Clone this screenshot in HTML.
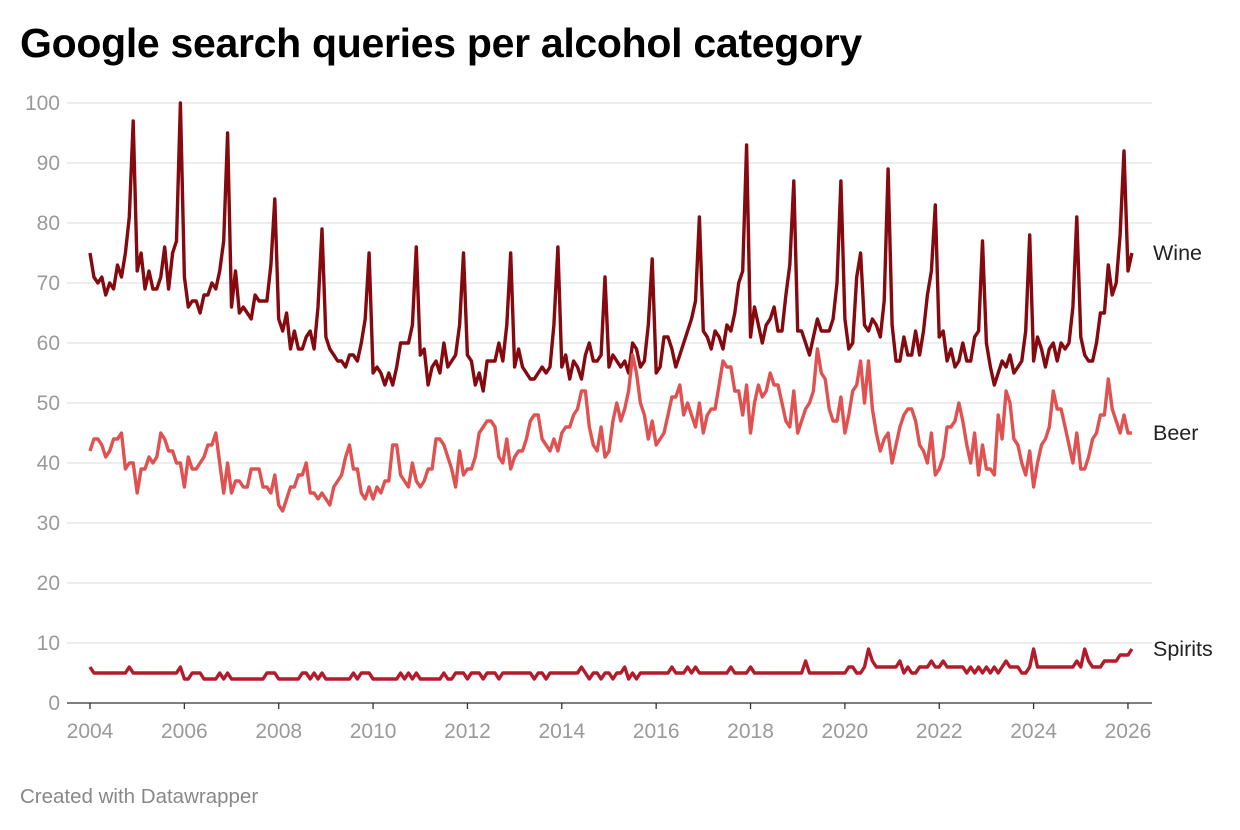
<!DOCTYPE html>
<html><head><meta charset="utf-8">
<style>
html,body{margin:0;padding:0;background:#fff;width:1240px;height:830px;overflow:hidden}
body{font-family:"Liberation Sans",Arial,sans-serif}
h1{position:absolute;left:20px;top:20px;margin:0;font-size:41px;font-weight:bold;color:#000;letter-spacing:-0.3px}
.foot{position:absolute;left:20px;top:785px;font-size:20.5px;color:#888}
</style></head><body>
<h1>Google search queries per alcohol category</h1>
<svg id="chart" width="1240" height="830" style="position:absolute;left:0;top:0"></svg>
<div class="foot">Created with Datawrapper</div>
<script>
const startYear = 2004;
const yTicks = [0,10,20,30,40,50,60,70,80,90,100];
const xTicks = [2004,2006,2008,2010,2012,2014,2016,2018,2020,2022,2024,2026];
const seriesNames = ["Wine","Beer","Spirits"];
const wine = [
75,71,70,71,68,70,69,73,71,75,81,97,
72,75,69,72,69,69,71,76,69,75,77,100,
71,66,67,67,65,68,68,70,69,72,77,95,
66,72,65,66,65,64,68,67,67,67,73,84,
64,62,65,59,62,59,59,61,62,59,66,79,
61,59,58,57,57,56,58,58,57,60,64,75,
55,56,55,53,55,53,56,60,60,60,63,76,
58,59,53,56,57,55,60,56,57,58,63,75,
58,57,53,55,52,57,57,57,60,57,63,75,
56,59,56,55,54,54,55,56,55,56,63,76,
56,58,54,57,56,54,58,60,57,57,58,71,
56,58,57,56,57,55,60,59,56,57,63,74,
55,56,61,61,59,56,58,60,62,64,67,81,
62,61,59,62,61,59,63,62,65,70,72,93,
61,66,63,60,63,64,66,62,62,68,73,87,
62,62,60,58,61,64,62,62,62,64,70,87,
64,59,60,71,75,63,62,64,63,61,67,89,
63,57,57,61,58,58,62,58,62,68,72,83,
61,62,57,59,56,57,60,57,57,61,62,77,
60,56,53,55,57,56,58,55,56,57,62,78,
57,61,59,56,59,60,57,60,59,60,66,81,
61,58,57,57,60,65,65,73,68,70,78,92,
72,75];
const beer = [
42,44,44,43,41,42,44,44,45,39,40,40,
35,39,39,41,40,41,45,44,42,42,40,40,
36,41,39,39,40,41,43,43,45,40,35,40,
35,37,37,36,36,39,39,39,36,36,35,38,
33,32,34,36,36,38,38,40,35,35,34,35,
34,33,36,37,38,41,43,39,39,35,34,36,
34,36,35,37,37,43,43,38,37,36,40,37,
36,37,39,39,44,44,43,41,39,36,42,38,
39,39,41,45,46,47,47,46,41,40,44,39,
41,42,42,44,47,48,48,44,43,42,44,42,
45,46,46,48,49,52,52,46,43,42,46,41,
42,47,50,47,49,52,58,55,50,48,44,47,
43,44,45,48,51,51,53,48,50,48,46,50,
45,48,49,49,53,57,56,56,52,52,48,53,
45,50,53,51,52,55,53,53,50,47,46,52,
45,47,49,50,52,59,55,54,49,47,47,51,
45,48,52,53,57,50,57,49,45,42,44,45,
40,43,46,48,49,49,47,43,42,40,45,38,
39,41,46,46,47,50,47,43,40,45,38,43,
39,39,38,48,44,52,50,44,43,40,38,42,
36,40,43,44,46,52,49,49,46,43,40,45,
39,39,41,44,45,48,48,54,49,47,45,48,
45,45];
const spirits = [
6,5,5,5,5,5,5,5,5,5,6,5,
5,5,5,5,5,5,5,5,5,5,5,6,
4,4,5,5,5,4,4,4,4,5,4,5,
4,4,4,4,4,4,4,4,4,5,5,5,
4,4,4,4,4,4,5,5,4,5,4,5,
4,4,4,4,4,4,4,5,4,5,5,5,
4,4,4,4,4,4,4,5,4,5,4,5,
4,4,4,4,4,4,5,4,4,5,5,5,
4,5,5,5,4,5,5,5,4,5,5,5,
5,5,5,5,5,4,5,5,4,5,5,5,
5,5,5,5,5,6,5,4,5,5,4,5,
5,4,5,5,6,4,5,4,5,5,5,5,
5,5,5,5,6,5,5,5,6,5,6,5,
5,5,5,5,5,5,5,6,5,5,5,5,
6,5,5,5,5,5,5,5,5,5,5,5,
5,5,7,5,5,5,5,5,5,5,5,5,
5,6,6,5,5,6,9,7,6,6,6,6,
6,6,7,5,6,5,5,6,6,6,7,6,
6,7,6,6,6,6,6,5,6,5,6,5,
6,5,6,5,6,7,6,6,6,5,5,6,
9,6,6,6,6,6,6,6,6,6,6,7,
6,9,7,6,6,6,7,7,7,7,8,8,
8,9];

const NS="http://www.w3.org/2000/svg";
const svg=document.getElementById('chart');
const x0=90, pxPerYear=47.18, yBase=703, pxPerUnit=6.0;
function xPos(t){return x0+(t-startYear)*pxPerYear;}
function xIdx(i){return xPos(startYear+i/12);}
function yPos(v){return yBase-v*pxPerUnit;}
function mk(tag,attrs){const e=document.createElementNS(NS,tag);for(const k in attrs)e.setAttribute(k,attrs[k]);svg.appendChild(e);return e;}

yTicks.forEach(v=>{
  const l=mk('line',{x1:67,x2:1152,y1:yPos(v),y2:yPos(v),stroke:v===0?'#333':'#e2e2e2','stroke-width':1.3});
  
  
  const t=mk('text',{x:60,y:yPos(v)+7,'text-anchor':'end','font-size':21,fill:'#9a9a9a','font-family':'Liberation Sans, sans-serif'});
  t.textContent=v;
  
  
});
xTicks.forEach(yr=>{
  const tk=mk('line',{x1:xPos(yr),x2:xPos(yr),y1:yBase,y2:yBase+6,stroke:'#333','stroke-width':1.3});
  
  
  const t=mk('text',{x:xPos(yr),y:738,'text-anchor':'middle','font-size':21,fill:'#9a9a9a','font-family':'Liberation Sans, sans-serif'});
  t.textContent=yr;
  
  
});
const colors=['#850a0f','#e05252','#b31a2a'];
[wine,beer,spirits].forEach((arr,si)=>{
  const d=arr.map((v,i)=>(i?'L':'M')+xIdx(i).toFixed(1)+','+yPos(v).toFixed(1)).join('');
  const p=mk('path',{d:d,fill:'none',stroke:colors[si],'stroke-width':3.4,'stroke-linejoin':'round'});
  
  
  const last=arr[arr.length-1];
  const t=mk('text',{x:1153,y:yPos(last)+7,'font-size':21.5,fill:'#222','font-family':'Liberation Sans, sans-serif'});
  t.textContent=seriesNames[si];
  
  
});
</script>
</body></html>
